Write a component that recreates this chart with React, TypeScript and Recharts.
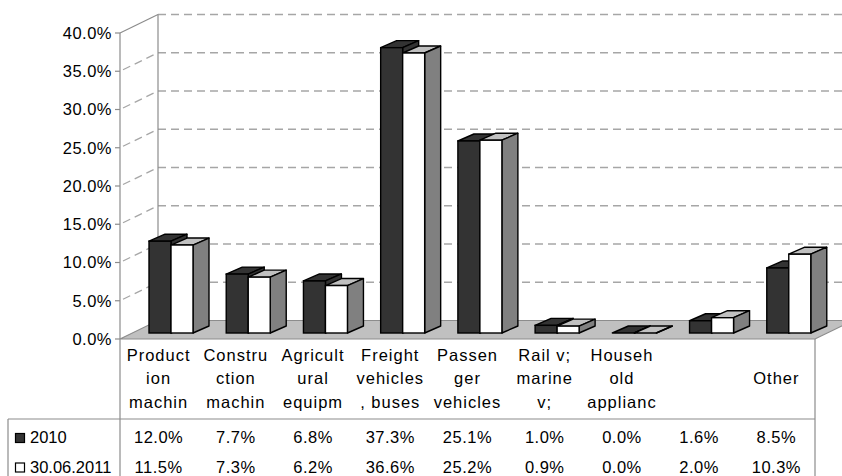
import React from "react";
import { BarChart, Bar, XAxis, YAxis, CartesianGrid } from "recharts";

// ---- data ----
const CATEGORY_LINES: string[][] = [
  ["Product", "ion", "machin"],
  ["Constru", "ction", "machin"],
  ["Agricult", "ural", "equipm"],
  ["Freight", "vehicles", ", buses"],
  ["Passen", "ger", "vehicles"],
  ["Rail v;", "marine", "v;"],
  ["Househ", "old", "applianc"],
  ["", "", ""],
  ["", "Other", ""],
];
const SERIES_NAMES = ["2010", "30.06.2011"];
const VALUES_2010 = [12.0, 7.7, 6.8, 37.3, 25.1, 1.0, 0.0, 1.6, 8.5];
const VALUES_2011 = [11.5, 7.3, 6.2, 36.6, 25.2, 0.9, 0.0, 2.0, 10.3];
const Y_TICKS = [0, 5, 10, 15, 20, 25, 30, 35, 40];

const data = CATEGORY_LINES.map((lines, i) => ({
  cat: lines.join(" ").trim() || `cat${i}`,
  a: VALUES_2010[i],
  b: VALUES_2011[i],
}));

// ---- layout ----
const W = 842;
const H = 476;
const LEFT = 120;
const RIGHT = 815;
const TOP = 33;
const XAXIS_H = 137;
const BOTTOM = H - XAXIS_H;
const DX = 38; // wall depth
const DY = -18.5;
const OFFX = 12; // bar placement depth
const OFFY = -6;
const BDX = 16; // bar depth
const BDY = -7;
const FONT = "'Liberation Sans', Arial, Helvetica, sans-serif";
const FS = 16.5;
const GRID = "#a6a6a6";
const FRAME = "#8c8c8c";
const DARK = "#333333";

const Bar3D = (props: any) => {
  const { x, y, width, height, front, top, side } = props;
  if (x == null || y == null) return null;
  const h = Math.max(height || 0, 0);
  const fx = x + OFFX;
  const fy = y + OFFY;
  const sw = 1.4;
  return (
    <g>
      <polygon
        points={`${fx},${fy} ${fx + width},${fy} ${fx + width + BDX},${fy + BDY} ${fx + BDX},${fy + BDY}`}
        fill={top}
        stroke="#000"
        strokeWidth={sw}
        strokeLinejoin="round"
      />
      <polygon
        points={`${fx + width},${fy} ${fx + width + BDX},${fy + BDY} ${fx + width + BDX},${fy + h + BDY} ${fx + width},${fy + h}`}
        fill={side}
        stroke="#000"
        strokeWidth={sw}
        strokeLinejoin="round"
      />
      {h > 0 && (
        <rect x={fx} y={fy} width={width} height={h} fill={front} stroke="#000" strokeWidth={sw} />
      )}
    </g>
  );
};

const GridLine = (props: any) => {
  const { x1, y1, x2, key } = props;
  const isBottom = Math.abs(y1 - BOTTOM) < 0.5;
  const isTop = Math.abs(y1 - TOP) < 0.5;
  if (isBottom) {
    return (
      <polygon
        key={key}
        points={`${x1},${y1} ${x2},${y1} ${x2 + DX},${y1 + DY} ${x1 + DX},${y1 + DY}`}
        fill="#c0c0c0"
        stroke={FRAME}
        strokeWidth={1.2}
      />
    );
  }
  return (
    <g key={key}>
      <line
        x1={x1 + DX}
        y1={y1 + DY}
        x2={x2 + DX}
        y2={y1 + DY}
        stroke={GRID}
        strokeWidth={1.3}
        strokeDasharray="8 5"
      />
      {isTop ? (
        <>
          <line x1={x1} y1={y1} x2={x1 + DX} y2={y1 + DY} stroke={FRAME} strokeWidth={1.2} />
          <line x1={x1 + DX} y1={y1 + DY} x2={x1 + DX} y2={BOTTOM + DY} stroke={FRAME} strokeWidth={1.2} />
        </>
      ) : (
        <line
          x1={x1 + 3}
          y1={y1 + (DY * 3) / DX}
          x2={x1 + DX}
          y2={y1 + DY}
          stroke={GRID}
          strokeWidth={1.3}
          strokeDasharray="8 5"
        />
      )}
    </g>
  );
};

const YTick = (props: any) => {
  const { y, payload } = props;
  return (
    <g>
      <line x1={LEFT - 5} y1={y} x2={LEFT} y2={y} stroke={FRAME} strokeWidth={1.2} />
      <text
        x={LEFT - 8}
        y={y}
        dy="0.35em"
        textAnchor="end"
        fontFamily={FONT}
        fontSize={FS}
        letterSpacing={0.5}
        fill="#000"
      >
        {`${Number(payload.value).toFixed(1)}%`}
      </text>
    </g>
  );
};

const XTick = (props: any) => {
  const { x, index } = props;
  const lines = CATEGORY_LINES[index] || [];
  const lineY = [BOTTOM + 16, BOTTOM + 39.5, BOTTOM + 63];
  const rowY = [BOTTOM + 98.5, BOTTOM + 128];
  const tableTop = BOTTOM + 80;
  return (
    <g fontFamily={FONT} fontSize={FS} fill="#000">
      {index === 0 && (
        <g>
          <line x1={8} y1={tableTop} x2={RIGHT} y2={tableTop} stroke={FRAME} strokeWidth={1.2} />
          <line x1={8} y1={tableTop} x2={8} y2={H} stroke={FRAME} strokeWidth={1.2} />
          <line x1={LEFT} y1={BOTTOM} x2={LEFT} y2={H} stroke={FRAME} strokeWidth={1.2} />
          <line x1={RIGHT} y1={BOTTOM} x2={RIGHT} y2={H} stroke={FRAME} strokeWidth={1.2} />
          <rect x={15.5} y={rowY[0] - 4} width={9} height={9} fill={DARK} stroke="#000" strokeWidth={1.2} />
          <text x={30} y={rowY[0]} dy="0.35em" fill="#000">
            {SERIES_NAMES[0]}
          </text>
          <rect x={15.5} y={rowY[1] - 4} width={9} height={9} fill="#fff" stroke="#000" strokeWidth={1.2} />
          <text x={30} y={rowY[1]} dy="0.35em" fill="#000">
            {SERIES_NAMES[1]}
          </text>
        </g>
      )}
      {lines.map((t, i) =>
        t ? (
          <text key={i} x={x} y={lineY[i]} dy="0.35em" textAnchor="middle" letterSpacing={1} fill="#000">
            {t}
          </text>
        ) : null
      )}
      <text x={x} y={rowY[0]} dy="0.35em" textAnchor="middle" letterSpacing={0.5} fill="#000">
        {`${VALUES_2010[index].toFixed(1)}%`}
      </text>
      <text x={x} y={rowY[1]} dy="0.35em" textAnchor="middle" letterSpacing={0.5} fill="#000">
        {`${VALUES_2011[index].toFixed(1)}%`}
      </text>
    </g>
  );
};

export default function App() {
  return (
    <div style={{ position: "absolute", left: 0, top: 0, width: W, height: H, background: "#fff" }}>
      <BarChart
        width={W}
        height={H}
        data={data}
        margin={{ top: TOP, right: W - RIGHT, bottom: 0, left: LEFT - 60 }}
        barGap={0}
      >
        <CartesianGrid horizontal={GridLine as any} vertical={false} />
        <YAxis
          width={60}
          domain={[0, 40]}
          ticks={Y_TICKS}
          interval={0}
          axisLine={{ stroke: FRAME, strokeWidth: 1.2 }}
          tickLine={false}
          tick={<YTick />}
        />
        <XAxis
          dataKey="cat"
          height={XAXIS_H}
          interval={0}
          axisLine={false}
          tickLine={false}
          tick={<XTick />}
        />
        <Bar
          dataKey="a"
          barSize={22}
          isAnimationActive={false}
          shape={(p: any) => <Bar3D {...p} front={DARK} top={DARK} side={DARK} />}
        />
        <Bar
          dataKey="b"
          barSize={22}
          isAnimationActive={false}
          shape={(p: any) => <Bar3D {...p} front="#ffffff" top="#c0c0c0" side="#808080" />}
        />
      </BarChart>
    </div>
  );
}
